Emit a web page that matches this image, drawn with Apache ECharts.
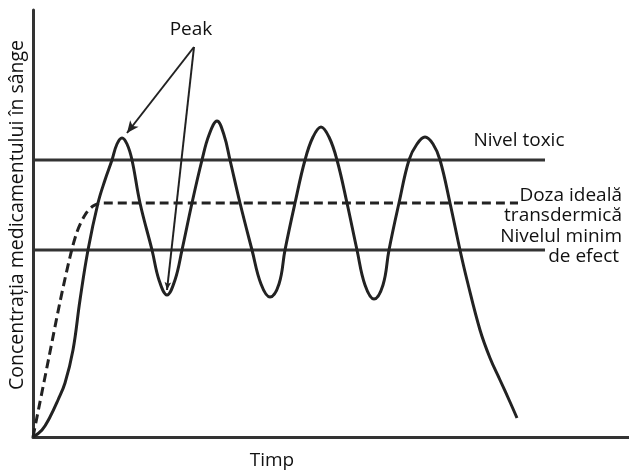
<!DOCTYPE html>
<html><head><meta charset="utf-8">
<script src="https://cdn.jsdelivr.net/npm/echarts@6/dist/echarts.min.js"></script>
<style>html,body{margin:0;padding:0;background:#fff}#c{width:629px;height:471px}</style>
</head><body><div id="c"></div>
<script>
// Arbitrary units: time (x) and concentration (y)
var solidCurve = [[0,0],[9,7],[17,20],[25,37],[32,54],[40,87],[47,137],[55,187],[65,234],[72,257],[79,277],[84,293],[89,299],[94,293],[99,277],[107,234],[119,187],[126,157],[134,142],[142,157],[149,187],[159,234],[169,277],[176,302],[184,316],[191,302],[197,277],[207,234],[219,187],[228,153],[237,140],[246,153],[252,187],[262,234],[272,277],[280,300],[288,310],[296,300],[304,277],[314,234],[324,187],[332,152],[341,138],[350,152],[356,187],[366,234],[376,277],[384,293],[392,300],[400,293],[407,277],[417,234],[427,187],[434,157],[447,107],[457,79],[467,57],[477,35],[484,19]];
var dashedCurve = [[0,0],[6,30],[16,80],[27,135],[37,180],[44,205],[52,222],[60,231],[70,234],[485,234]];
var toxicLevel = [[0,277],[512,277]];
var minLevel = [[0,187],[512,187]];
var peakVertex = [161,390];
var peakTargets = [[94,304],[134,147]];
var labels = {
  yName: 'Concentrația medicamentului în sânge',
  xName: 'Timp',
  peak: 'Peak',
  toxic: 'Nivel toxic',
  ideal: ['Doza ideală', 'transdermică'],
  minim: ['Nivelul minim', 'de efect']
};

var chart = echarts.init(document.getElementById('c'));
var FONT = 'Open Sans';
var ink = '#222';
var txt = {fontFamily: FONT, fontSize: 19, fill: '#111'};
function T(x, y, s, align) {
  return {type:'text', x:x, y:y, style:Object.assign({}, txt, {text:s, textAlign:align||'center', textVerticalAlign:'middle'})};
}
chart.setOption({
  animation: false,
  grid: {left: 33, right: 0, top: 10, bottom: 34},
  xAxis: {type:'value', min:0, max:596, axisLine:{show:true, lineStyle:{color:'#333', width:3}}, axisTick:{show:false}, axisLabel:{show:false}, splitLine:{show:false}},
  yAxis: {type:'value', min:0, max:427, axisLine:{show:true, lineStyle:{color:'#333', width:3}}, axisTick:{show:false}, axisLabel:{show:false}, splitLine:{show:false}},
  series: [
    {type:'line', data: toxicLevel, symbol:'none', lineStyle:{color:'#333', width:3}},
    {type:'line', data: minLevel, symbol:'none', lineStyle:{color:'#333', width:3}},
    {type:'line', data: dashedCurve, symbol:'none', smooth:0.3, lineStyle:{color:ink, width:3, type:[9,5]}},
    {type:'line', data: solidCurve, symbol:'none', smooth:0.4, lineStyle:{color:ink, width:3},
     markLine: {silent:true, symbolSize:[8,12], lineStyle:{color:ink, width:2, type:'solid'}, label:{show:false},
       data: [
         [{coord: peakVertex, symbol:'none'}, {coord: peakTargets[0], symbol:'arrow'}],
         [{coord: peakVertex, symbol:'none'}, {coord: peakTargets[1], symbol:'arrow', symbolSize:[5,8]}]
       ]}}
  ],
  graphic: [
    T(191, 30, labels.peak),
    T(519, 141, labels.toxic),
    T(622, 196, labels.ideal[0], 'right'),
    T(622, 216, labels.ideal[1], 'right'),
    T(622, 237, labels.minim[0], 'right'),
    T(619, 257, labels.minim[1], 'right'),
    T(272, 461, labels.xName),
    {type:'text', x:17, y:215, rotation:Math.PI/2, style:Object.assign({}, txt, {fontSize:19.5, text:labels.yName, textAlign:'center', textVerticalAlign:'middle'})}
  ]
});
</script></body></html>
